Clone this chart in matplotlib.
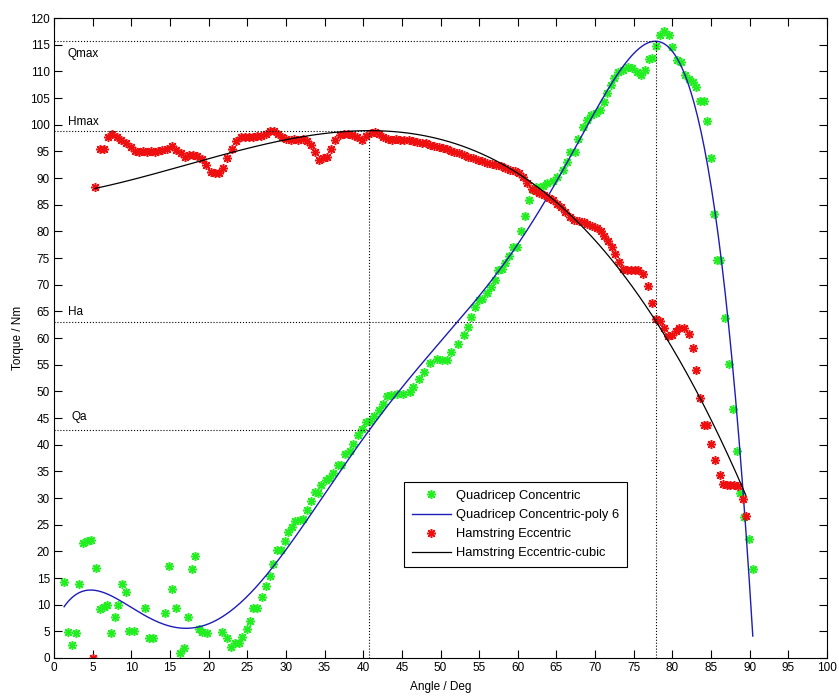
import numpy as np
import matplotlib
matplotlib.use("Agg")
import matplotlib.pyplot as plt

"""Data (read off the picture)"""
quad_angle = [1.3, 1.8, 2.3, 2.8, 3.2, 3.8, 4.3, 4.8, 5.4, 6.0, 6.4, 6.9, 7.4, 7.9, 8.3, 8.8,
              9.3, 9.7, 10.3, 11.8, 12.3, 12.8, 14.4, 14.9, 15.3, 15.8, 16.3, 16.8, 17.3, 17.8,
              18.3, 18.8, 19.2, 19.8, 21.7, 22.4, 22.9, 23.4, 23.9, 24.3, 24.9, 25.3, 25.8, 26.3,
              26.9, 27.4, 27.9, 28.3, 28.8, 29.4, 29.9, 30.3, 30.8, 31.2, 31.8, 32.2, 32.7, 33.2,
              33.7, 34.2, 34.6, 35.2, 35.6, 36.1, 36.7, 37.1, 37.7, 38.3, 38.7, 39.3, 39.8, 40.4,
              40.9, 41.4, 42.0, 42.5, 43.1, 43.6, 44.4, 45.2, 46.0, 46.5, 47.2, 47.8, 48.6, 49.6,
              50.2, 50.9, 51.4, 52.3, 53.0, 53.5, 54.0, 54.4, 55.0, 55.4, 56.0, 56.5, 57.0, 57.4,
              57.9, 58.4, 58.8, 59.4, 59.9, 60.4, 60.9, 61.4, 61.9, 62.4, 63.2, 63.8, 64.5, 65.1,
              65.8, 66.3, 66.8, 67.4, 67.8, 68.4, 68.9, 69.5, 70.1, 70.6, 71.2, 71.6, 72.0, 72.5,
              73.0, 73.6, 74.2, 74.8, 75.4, 75.9, 76.4, 77.0, 77.4, 77.9, 78.4, 78.9, 79.5, 80.0,
              80.6, 81.1, 81.6, 82.2, 82.7, 83.1, 83.6, 84.1, 84.5, 85.0, 85.4, 85.8, 86.2, 86.8,
              87.3, 87.8, 88.3, 88.8, 89.2, 89.9, 90.4]
quad_torque = [14.2, 4.9, 2.4, 4.6, 13.9, 21.6, 22.0, 22.1, 16.8, 9.1, 9.6, 9.9, 4.6, 7.7, 9.9, 13.8,
               12.3, 5.0, 5.0, 9.3, 3.7, 3.7, 8.5, 17.2, 13.0, 9.3, 0.9, 1.8, 7.7, 16.6,
               19.1, 5.5, 4.9, 4.7, 4.8, 3.7, 2.1, 2.8, 2.9, 4.0, 5.5, 7.0, 9.3, 9.3,
               11.5, 13.5, 15.4, 17.6, 20.2, 20.2, 21.9, 23.6, 24.6, 25.6, 25.8, 26.1, 27.8, 29.5,
               31.1, 30.9, 32.5, 33.3, 33.8, 34.7, 36.1, 36.1, 38.3, 38.9, 40.2, 41.8, 43.0, 44.3,
               44.5, 45.3, 46.5, 47.6, 49.1, 49.3, 49.5, 49.5, 49.9, 50.9, 52.3, 53.7, 55.3, 56.0,
               55.9, 55.8, 57.4, 58.9, 60.6, 62.1, 63.9, 65.9, 67.2, 67.4, 68.4, 69.6, 70.9, 72.8,
               72.9, 74.1, 75.4, 77.1, 77.1, 80.0, 82.8, 85.9, 87.8, 88.3, 88.5, 89.0, 89.5, 90.2,
               91.5, 93.0, 94.9, 94.9, 97.3, 99.6, 100.9, 101.8, 102.1, 102.8, 104.2, 105.9, 107.4, 108.7,
               109.9, 110.2, 110.9, 110.7, 109.9, 109.3, 110.2, 112.4, 112.5, 114.8, 116.8, 117.6, 116.8, 114.6,
               112.1, 111.7, 109.3, 108.6, 108.0, 107.1, 104.5, 104.5, 100.6, 93.8, 83.2, 74.6, 74.6, 63.7,
               55.2, 46.6, 38.9, 31.0, 26.5, 22.3, 16.6]

ham_angle = [5.0, 5.3, 5.9, 6.4, 7.0, 7.5, 8.1, 8.7, 9.3, 9.9, 10.5, 11.0, 11.5, 12.0, 12.5, 13.0,
             13.5, 14.0, 14.6, 15.2, 15.8, 16.4, 17.0, 17.5, 18.0, 18.5, 19.1, 19.7, 20.3, 20.8,
             21.3, 21.8, 22.4, 23.0, 23.6, 24.2, 24.7, 25.2, 25.7, 26.2, 26.8, 27.4, 28.0, 28.5,
             29.0, 29.5, 30.0, 30.6, 31.1, 31.6, 32.2, 32.7, 33.2, 33.7, 34.3, 34.8, 35.3, 35.8,
             36.4, 37.0, 37.5, 38.0, 38.6, 39.2, 39.8, 40.4, 41.0, 41.5, 42.0, 42.6, 43.2, 43.7,
             44.2, 44.8, 45.3, 45.9, 46.5, 47.0, 47.6, 48.1, 48.7, 49.2, 49.8, 50.3, 50.8, 51.3,
             51.8, 52.4, 53.0, 53.6, 54.2, 54.8, 55.4, 56.0, 56.6, 57.2, 57.8, 58.4, 59.0, 59.6,
             60.2, 60.7, 61.2, 61.8, 62.3, 62.8, 63.4, 64.0, 64.6, 65.1, 65.6, 66.1, 66.7, 67.3,
             67.9, 68.5, 69.0, 69.6, 70.2, 70.7, 71.2, 71.7, 72.2, 72.6, 73.1, 73.6, 74.1, 74.6,
             75.1, 75.6, 76.2, 76.8, 77.3, 77.9, 78.4, 78.9, 79.4, 79.9, 80.4, 80.9, 81.5, 82.1,
             82.6, 83.0, 83.6, 84.1, 84.5, 85.0, 85.5, 86.1, 86.5, 87.0, 87.5, 88.0, 88.5, 89.1,
             89.5]
ham_torque = [0.0, 88.3, 95.4, 95.4, 97.6, 98.2, 97.7, 97.1, 96.5, 95.9, 95.0, 94.8, 95.0, 94.8, 95.0, 94.8,
              95.0, 95.2, 95.4, 96.0, 95.3, 94.7, 94.0, 94.3, 94.3, 94.2, 93.6, 92.5, 91.2, 91.0,
              91.0, 91.8, 93.7, 95.5, 97.0, 97.7, 97.7, 97.7, 97.7, 97.8, 97.8, 98.3, 98.9, 98.8,
              98.2, 97.7, 97.3, 97.2, 97.3, 97.2, 97.3, 97.0, 96.2, 94.8, 93.4, 93.8, 94.0, 95.5,
              97.2, 98.0, 98.3, 98.2, 98.0, 97.6, 97.1, 97.9, 98.4, 98.6, 98.3, 97.7, 97.3, 97.2,
              97.3, 97.2, 97.1, 97.2, 97.0, 96.8, 96.6, 96.5, 96.2, 96.0, 95.9, 95.6, 95.4, 95.1,
              94.9, 94.6, 94.3, 94.0, 93.7, 93.4, 93.1, 92.8, 92.6, 92.4, 92.2, 91.9, 91.5, 91.3,
              91.0, 90.1, 89.0, 88.0, 87.5, 87.2, 86.8, 86.3, 85.9, 85.2, 84.6, 83.6, 82.7, 82.2,
              82.0, 81.8, 81.4, 81.0, 80.6, 80.1, 79.1, 78.2, 77.0, 75.7, 74.3, 72.9, 72.8, 72.8,
              72.8, 72.8, 72.0, 69.7, 66.5, 63.5, 63.2, 61.8, 60.3, 60.5, 61.4, 61.9, 61.8, 60.8,
              58.2, 54.0, 48.7, 43.7, 43.7, 40.2, 37.1, 34.4, 32.6, 32.5, 32.4, 32.5, 32.3, 29.9,
              26.6]

x_ticks = list(range(0, 101, 5))
y_ticks = list(range(0, 121, 5))

"""Fits"""
qx = np.array(quad_angle)
qy = np.array(quad_torque)
hx = np.array(ham_angle)
hy = np.array(ham_torque)

q_poly = np.polyfit(qx, qy, 6)
h_poly = np.polyfit(hx, hy, 3)
q_grid = np.linspace(qx.min(), qx.max(), 400)
h_grid = np.linspace(hx[1], hx.max(), 400)
q_fit = np.polyval(q_poly, q_grid)
h_fit = np.polyval(h_poly, h_grid)

q_peak_ang = q_grid[np.argmax(q_fit)]
q_max = q_fit.max()
h_peak_ang = h_grid[np.argmax(h_fit)]
h_max = h_fit.max()
h_a = np.polyval(h_poly, q_peak_ang)   # hamstring torque at quad peak angle
q_a = np.polyval(q_poly, h_peak_ang)   # quad torque at hamstring peak angle

"""Plot"""
plt.rcParams['font.family'] = ['Liberation Sans', 'DejaVu Sans']
fig = plt.figure(figsize=(8.39, 6.96), dpi=100)
ax = fig.add_axes([0.0644, 0.0546, 0.9213, 0.9195])

ast = (8, 2, 0)
ax.plot(qx, qy, ls='none', marker=ast, ms=6.5, mew=1.1, color='#22ee22', label='Quadricep Concentric')
ax.plot(q_grid, q_fit, color='#1c1cb8', lw=1.0, label='Quadricep Concentric-poly 6')
ax.plot(ham_angle, ham_torque, ls='none', marker=ast, ms=6.5, mew=1.1, color='#ee1010', label='Hamstring Eccentric')
ax.plot(h_grid, h_fit, color='black', lw=0.9, label='Hamstring Eccentric-cubic')

# reference lines
dot = dict(color='black', ls=':', lw=0.8)
ax.plot([0, q_peak_ang], [q_max, q_max], **dot)
ax.plot([q_peak_ang, q_peak_ang], [0, q_max], **dot)
ax.plot([0, h_peak_ang], [h_max, h_max], **dot)
ax.plot([h_peak_ang, h_peak_ang], [0, h_max], **dot)
ax.plot([0, q_peak_ang], [h_a, h_a], **dot)
ax.plot([0, h_peak_ang], [q_a, q_a], **dot)
ax.text(1.8, q_max - 2.3, 'Qmax', fontsize=8.5, va='center')
ax.text(1.8, h_max + 1.6, 'Hmax', fontsize=8.5, va='center')
ax.text(1.8, h_a + 1.8, 'Ha', fontsize=8.5, va='center')
ax.text(2.3, q_a + 2.6, 'Qa', fontsize=8.5, va='center')

ax.set_xlim(0, 100)
ax.set_ylim(0, 120)
ax.set_xticks(x_ticks)
ax.set_yticks(y_ticks)
ax.tick_params(direction='in', top=True, right=True, length=6, labelsize=8.5, pad=3)
ax.set_xlabel('Angle / Deg', fontsize=8.5, labelpad=5)
ax.set_ylabel('Torque / Nm', fontsize=8.5, labelpad=4)

leg = ax.legend(loc='lower left', bbox_to_anchor=(0.453, 0.142), fontsize=9.3,
                fancybox=False, edgecolor='black', framealpha=1, handlelength=3.0,
                handletextpad=0.4, borderpad=0.6, labelspacing=0.55, borderaxespad=0)
leg.get_frame().set_linewidth(0.8)

fig.savefig('out.png', dpi=100)
print("end of script")
